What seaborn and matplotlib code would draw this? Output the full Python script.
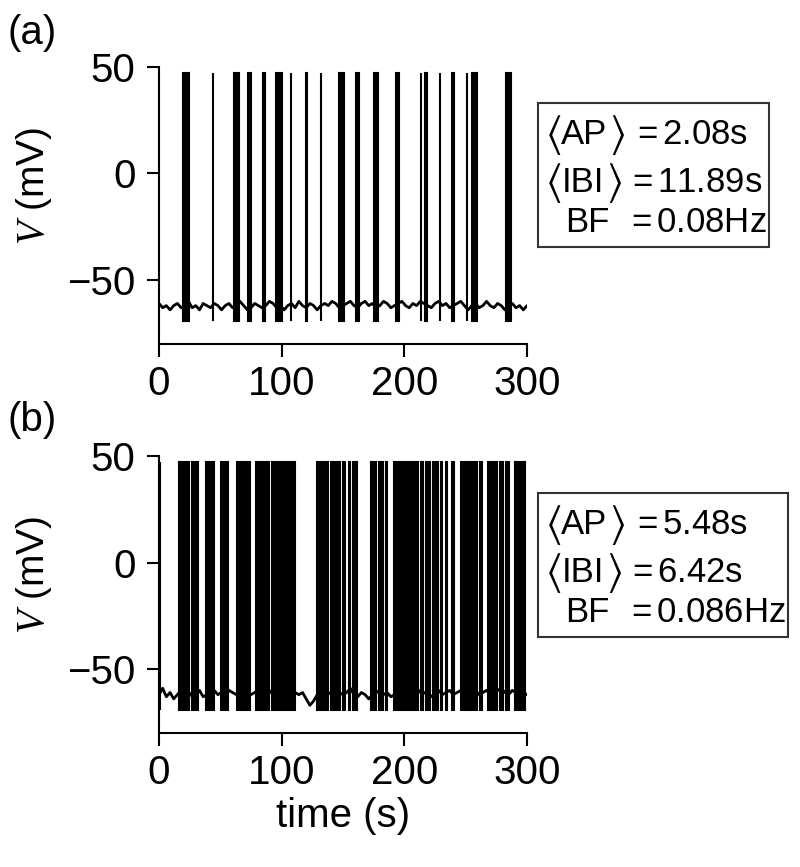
import numpy as np
import pandas as pd
import matplotlib
matplotlib.use("Agg")
import matplotlib.pyplot as plt
import seaborn as sns
from matplotlib.patches import Rectangle

# ---------------- data ----------------
# panel (a): burst start times (s) and burst durations (s)
a_burst_start = [19.4, 43.7, 60.9, 72.6, 84.5, 95.7, 107.4, 119.5, 132.0, 146.8,
                 160.5, 175.5, 193.2, 213.5, 216.9, 228.8, 238.8, 251.0, 254.9, 283.0]
a_burst_dur = [5.1, 0.3, 4.6, 2.4, 1.9, 4.3, 0.3, 1.4, 0.3, 4.3,
               2.4, 3.0, 2.2, 0.3, 1.6, 0.5, 1.4, 0.3, 4.6, 3.8]

# panel (b): burst start times (s) and burst durations (s)
b_burst_start = [0.7, 16.0, 27.0, 38.5, 50.3, 63.4, 79.0, 84.7, 87.5, 92.5,
                 101.3, 129.0, 140.2, 145.0, 150.4, 154.5, 158.2, 172.8, 179.4, 185.3,
                 191.5, 195.6, 199.8, 206.6, 213.6, 217.8, 223.0, 230.1, 234.1, 239.0,
                 246.2, 261.4, 268.3, 277.8, 283.1, 289.9]
b_burst_dur = [0.2, 8.7, 4.6, 6.6, 6.2, 11.1, 4.2, 0.6, 2.5, 7.0,
               9.5, 9.0, 3.0, 2.2, 1.6, 1.6, 2.9, 4.5, 2.9, 0.4,
               2.2, 2.2, 4.6, 4.6, 1.7, 2.9, 4.5, 0.3, 0.6, 1.2,
               12.8, 1.7, 7.0, 2.5, 2.1, 8.7]

# resting membrane potential read every 3 s (mV)
a_baseline = [-61, -63, -62, -64, -62, -61, -63, -62, -60, -63, -62, -64, -61, -62, -63,
              -61, -62, -64, -62, -61, -63, -62, -60, -62, -64, -63, -61, -62, -63, -62,
              -60, -61, -63, -62, -64, -62, -61, -63, -60, -62, -63, -61, -62, -64, -62,
              -61, -62, -60, -61, -63, -62, -61, -60, -62, -63, -61, -60, -62, -61, -63,
              -62, -60, -61, -63, -62, -61, -60, -62, -63, -61, -62, -60, -61, -62, -63,
              -61, -60, -62, -61, -63, -62, -61, -60, -62, -64, -62, -61, -63, -62, -60,
              -62, -63, -61, -62, -64, -62, -61, -63, -62, -64, -62]
b_baseline = [-62, -59, -63, -61, -64, -62, -60, -62, -63, -61, -62, -60, -63, -62, -61,
              -60, -62, -61, -63, -60, -61, -62, -60, -61, -63, -62, -61, -60, -62, -61,
              -60, -62, -61, -60, -61, -62, -60, -61, -62, -61, -64, -67, -65, -62, -61,
              -60, -61, -62, -60, -61, -62, -61, -59, -62, -63, -61, -62, -64, -62, -61,
              -60, -62, -61, -63, -62, -61, -60, -62, -63, -61, -62, -60, -61, -62, -63,
              -61, -60, -62, -61, -60, -62, -61, -60, -62, -63, -61, -60, -62, -61, -60,
              -62, -61, -60, -59, -61, -62, -60, -61, -62, -61, -62]

spike_low = -69.0
spike_high = 47.0

y_ticks = [-50, 0, 50]
x_ticks = [0, 100, 200, 300]

stats_a = [("AP", "2.08s"), ("IBI", "11.89s"), ("BF", "0.08Hz")]
stats_b = [("AP", "5.48s"), ("IBI", "6.42s"), ("BF", "0.086Hz")]

# ---------------- style ----------------
sns.set_theme(style="ticks")
plt.rcParams["font.family"] = ["Liberation Sans", "DejaVu Sans"]
plt.rcParams["mathtext.fontset"] = "custom"
plt.rcParams["mathtext.rm"] = "Liberation Sans"
plt.rcParams["mathtext.it"] = "Liberation Serif:italic"
plt.rcParams["mathtext.fallback"] = "stix"
plt.rcParams["text.color"] = "black"
plt.rcParams["axes.labelcolor"] = "black"

FS = 29      # axes text
FS_BOX = 25  # statistics box text
FS_BRACKET = 31
W, H = 800, 867
fig = plt.figure(figsize=(W / 100, H / 100), dpi=100)


def fx(px):
    return px / W


def fy(py):
    return 1 - py / H


ax_a = fig.add_axes([fx(159), fy(344), fx(527) - fx(159), fy(66.7) - fy(344)])
ax_b = fig.add_axes([fx(159), fy(733), fx(527) - fx(159), fy(456) - fy(733)])


def draw_panel(ax, starts, durs, baseline):
    t = np.linspace(0, 300, len(baseline))
    df = pd.DataFrame({"t": t, "V": baseline})
    sns.lineplot(data=df, x="t", y="V", ax=ax, color="black", linewidth=2.0)
    ax.bar(starts, spike_high - spike_low, width=durs, bottom=spike_low,
           align="edge", color="black", edgecolor="black", linewidth=1.5, zorder=3)
    ax.set_xlim(0, 300)
    ax.set_ylim(-80, 50)
    ax.set_xticks(x_ticks)
    ax.set_yticks(y_ticks)
    ax.tick_params(axis="both", labelsize=FS, length=9, width=1.5, color="black",
                   labelcolor="black")
    ax.tick_params(axis="y", pad=8)
    ax.tick_params(axis="x", pad=6)
    for s in ["top", "right"]:
        ax.spines[s].set_visible(False)
    for s in ["left", "bottom"]:
        ax.spines[s].set_linewidth(1.5)
        ax.spines[s].set_color("black")
    ax.set_ylabel(r"$\mathit{V}$ (mV)", fontsize=FS - 1)
    ax.yaxis.set_label_coords(-0.285, 0.57)
    ax.set_xlabel("")
    ax.set_facecolor("white")


draw_panel(ax_a, a_burst_start, a_burst_dur, a_baseline)
draw_panel(ax_b, b_burst_start, b_burst_dur, b_baseline)
ax_b.set_xlabel("time (s)", fontsize=FS, labelpad=4)

fig.text(fx(8), fy(33), "(a)", fontsize=FS, ha="left", va="center")
fig.text(fx(8), fy(420), "(b)", fontsize=FS, ha="left", va="center")


def stats_box(y0, box_right, stats):
    box_top, box_bottom = y0 + 13, y0 + 157
    rect = Rectangle((fx(538), fy(box_bottom)), fx(box_right) - fx(538),
                     fy(box_top) - fy(box_bottom), transform=fig.transFigure,
                     fill=False, edgecolor="#333333", linewidth=1.5)
    fig.patches.append(rect)
    line_y = [y0 + 44, y0 + 92, y0 + 133]
    name_x = [561, 562, 565]
    rb_x = [609, 606, None]
    eq_x = [632, 627, 626]
    for (name, val), ly, nx, rx, ex in zip(stats, line_y, name_x, rb_x, eq_x):
        fig.text(fx(nx), fy(ly), name, fontsize=FS_BOX, ha="left", va="center")
        if rx is not None:
            fig.text(fx(545), fy(ly + 1), r"$\langle$", fontsize=FS_BRACKET,
                     ha="left", va="center")
            fig.text(fx(rx), fy(ly + 1), r"$\rangle$", fontsize=FS_BRACKET,
                     ha="left", va="center")
        fig.text(fx(ex), fy(ly), r"$=$" + val, fontsize=FS_BOX, ha="left", va="center")


stats_box(90, 769, stats_a)
stats_box(480, 788, stats_b)

fig.savefig("out.png", dpi=100, facecolor="white")
